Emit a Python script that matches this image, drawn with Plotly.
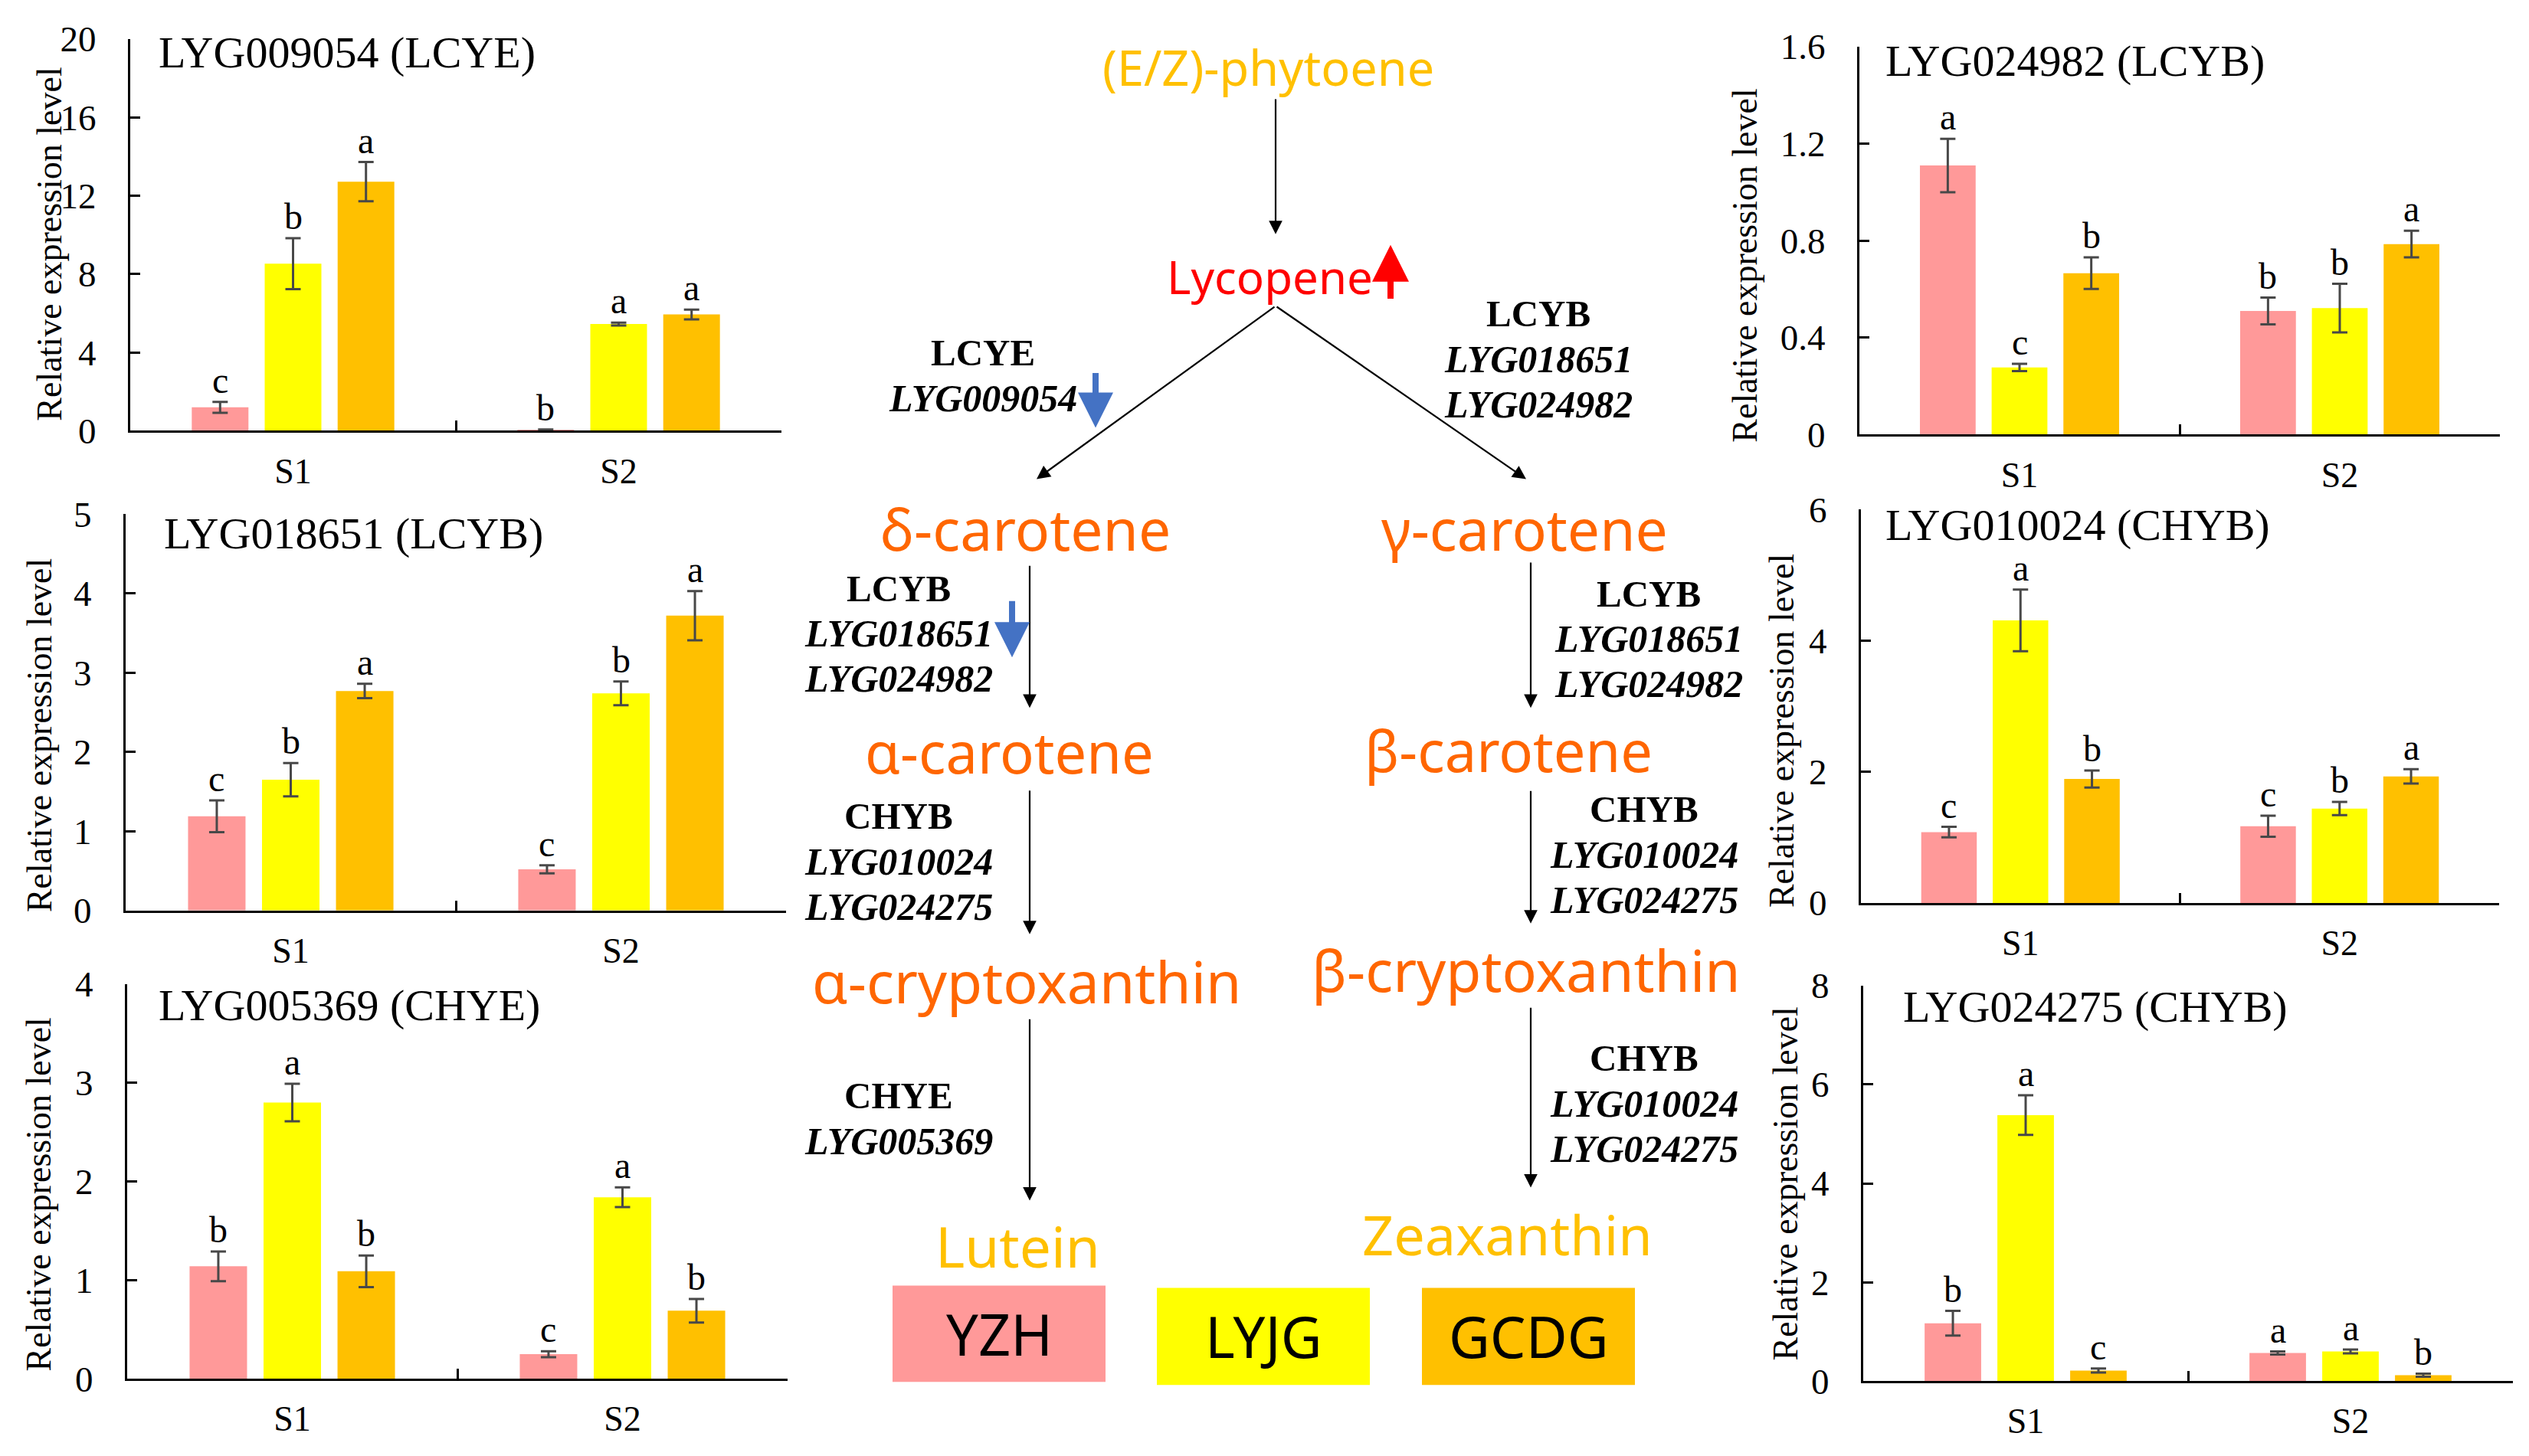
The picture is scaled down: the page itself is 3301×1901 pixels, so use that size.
import plotly.graph_objects as go

W, H = 3301, 1901

# ---------------- data ----------------
categories = ["S1", "S2"]
groups = ["YZH", "LYJG", "GCDG"]
group_colors = ["#FF9999", "#FFFF00", "#FFC000"]

# rows: YZH, LYJG, GCDG ; columns: S1, S2
lyg009054_mean = [[1.20, 0.05], [8.53, 5.45], [12.72, 5.94]]
lyg009054_err = [[0.28, 0.02], [1.30, 0.07], [1.00, 0.25]]
lyg009054_sig = [["c", "b"], ["b", "a"], ["a", "a"]]

lyg018651_mean = [[1.19, 0.52], [1.65, 2.74], [2.77, 3.72]]
lyg018651_err = [[0.20, 0.05], [0.21, 0.15], [0.09, 0.31]]
lyg018651_sig = [["c", "c"], ["b", "b"], ["a", "a"]]

lyg005369_mean = [[1.14, 0.25], [2.80, 1.84], [1.09, 0.69]]
lyg005369_err = [[0.15, 0.03], [0.19, 0.10], [0.16, 0.12]]
lyg005369_sig = [["b", "c"], ["a", "a"], ["b", "b"]]

lyg024982_mean = [[1.11, 0.51], [0.277, 0.522], [0.666, 0.786]]
lyg024982_err = [[0.11, 0.055], [0.015, 0.10], [0.065, 0.055]]
lyg024982_sig = [["a", "b"], ["c", "b"], ["b", "a"]]

lyg010024_mean = [[1.08, 1.17], [4.31, 1.44], [1.89, 1.93]]
lyg010024_err = [[0.08, 0.16], [0.47, 0.10], [0.13, 0.11]]
lyg010024_sig = [["c", "c"], ["a", "b"], ["b", "a"]]

lyg024275_mean = [[1.17, 0.57], [5.38, 0.60], [0.215, 0.12]]
lyg024275_err = [[0.25, 0.03], [0.40, 0.04], [0.04, 0.03]]
lyg024275_sig = [["b", "a"], ["a", "a"], ["c", "b"]]

panel_titles = ["LYG009054 (LCYE)", "LYG018651 (LCYB)", "LYG005369 (CHYE)",
                "LYG024982 (LCYB)", "LYG010024 (CHYB)", "LYG024275 (CHYB)"]
panel_ranges = [[0, 20], [0, 5], [0, 4], [0, 1.6], [0, 6], [0, 8]]
panel_dticks = [4, 1, 1, 0.4, 2, 2]
panel_means = [lyg009054_mean, lyg018651_mean, lyg005369_mean,
               lyg024982_mean, lyg010024_mean, lyg024275_mean]
panel_errs = [lyg009054_err, lyg018651_err, lyg005369_err,
              lyg024982_err, lyg010024_err, lyg024275_err]
panel_sigs = [lyg009054_sig, lyg018651_sig, lyg005369_sig,
              lyg024982_sig, lyg010024_sig, lyg024275_sig]

# ---------------- layout geometry (target pixels) ----------------
boxes = [(169, 1019, 49, 561), (163, 1025, 670, 1188), (165, 1027, 1284, 1800),
         (2426, 3262, 59, 566), (2428, 3261, 664, 1178), (2431, 3279, 1286, 1803)]
title_pos = [(204, 67), (211, 695), (204, 1312), (2458, 78), (2458, 684), (2481, 1314)]
ytitle_pos = [(64, 317), (50, 959), (50, 1559), (2277, 345), (2324, 953), (2330, 1545)]

SERIF = "Liberation Serif"
SANS = "Noto Sans"
BARGAP = 0.328
GROUPGAP = 0.223

# calibration of the capture (observed: shown = OFF + SC * y, shown = XOFF + x)
OFF, SC = 32.0, 0.9736
XOFF = 7.0


def ypix(y):
    return (y - OFF) / SC


def px(x):
    return (x - XOFF) / W


def py(y):
    return 1 - ypix(y) / H


fig = go.Figure()
annotations = []
shapes = []

for i in range(6):
    sfx = "" if i == 0 else str(i + 1)
    xa, ya = "x" + sfx, "y" + sfx
    x0, x1, yt, yb = boxes[i]
    for g in range(3):
        fig.add_trace(go.Bar(
            x=categories, y=panel_means[i][g], name=groups[g],
            marker=dict(color=group_colors[g], line=dict(width=0)),
            error_y=dict(type="data", array=panel_errs[i][g], visible=True,
                         color="#484848", thickness=3, width=10),
            xaxis=xa, yaxis=ya, showlegend=False))
    fig.layout["xaxis" + sfx] = dict(
        domain=[px(x0), px(x1)], anchor=ya, type="category",
        showline=True, linecolor="black", linewidth=3,
        ticks="inside", tickson="boundaries", ticklen=13, tickwidth=3, tickcolor="black",
        tickfont=dict(family=SERIF, size=46, color="black"), ticklabelstandoff=10,
        showgrid=False, zeroline=False, fixedrange=True)
    fig.layout["yaxis" + sfx] = dict(
        domain=[py(yb), py(yt)], anchor=xa, range=panel_ranges[i],
        dtick=panel_dticks[i], tick0=0,
        showline=True, linecolor="black", linewidth=3,
        ticks="inside", ticklen=13, tickwidth=3, tickcolor="black",
        tickfont=dict(family=SERIF, size=47, color="black"), ticklabelstandoff=32,
        showgrid=False, zeroline=False, fixedrange=True)
    tx, ty = title_pos[i]
    annotations.append(dict(text=panel_titles[i], x=px(tx), y=py(ty), xref="paper", yref="paper",
                            xanchor="left", yanchor="middle", showarrow=False,
                            font=dict(family=SERIF, size=58, color="black")))
    ax_, ay_ = ytitle_pos[i]
    annotations.append(dict(text="Relative expression level", x=px(ax_), y=py(ay_),
                            xref="paper", yref="paper", xanchor="center", yanchor="middle",
                            textangle=-90, showarrow=False,
                            font=dict(family=SERIF, size=46, color="black")))
    cat_w = (x1 - x0) / 2.0
    slot = (1 - BARGAP) / 3.0 * cat_w
    for g in range(3):
        for c in range(2):
            annotations.append(dict(
                text=panel_sigs[i][g][c], x=categories[c],
                y=panel_means[i][g][c] + panel_errs[i][g][c],
                xref=xa, yref=ya, xanchor="center", yanchor="bottom",
                xshift=(g - 1) * slot, yshift=0, showarrow=False,
                font=dict(family=SERIF, size=48, color="black")))

# ---------------- pathway diagram ----------------
ORANGE = "#FF6600"
GOLD = "#FFC000"
BLUE = "#4472C4"


def label(text, x, y, size, color="black", family=SANS):
    annotations.append(dict(text=text, x=px(x), y=py(y), xref="paper", yref="paper",
                            xanchor="center", yanchor="middle", showarrow=False,
                            font=dict(family=family, size=size, color=color)))


def arrow(xh, yh, xt, yt, color="black", width=2.2, size=1.6, head=2):
    annotations.append(dict(text="", x=px(xh), y=py(yh), xref="paper", yref="paper",
                            ax=xt - xh, ay=ypix(yt) - ypix(yh), axref="pixel", ayref="pixel",
                            showarrow=True, arrowhead=head, arrowsize=size,
                            arrowwidth=width, arrowcolor=color, standoff=0))


def enzyme(name, genes, x, y0, step=59):
    label("<b>%s</b>" % name, x, y0, 49, family=SERIF)
    for k, gname in enumerate(genes):
        label("<b><i>%s</i></b>" % gname, x, y0 + step * (k + 1), 50, family=SERIF)


label("(E/Z)-phytoene", 1654, 86, 63, GOLD)
arrow(1664, 304, 1664, 131)
label("Lycopene", 1656, 359, 60, "#FF0000")
arrow(1814, 318, 1814, 388, color="#FF0000", width=8, size=1.2)
arrow(1352, 624, 1664, 404)
arrow(1991, 624, 1664, 404)

enzyme("LCYE", ["LYG009054"], 1282, 459)
arrow(1429, 557, 1429, 486, color=BLUE, width=8, size=1.15)
enzyme("LCYB", ["LYG018651", "LYG024982"], 2007, 408)

label("δ-carotene", 1337, 689, 75, ORANGE)
label("γ-carotene", 1989, 689, 75, ORANGE)
arrow(1343, 923, 1343, 741)
arrow(1997, 923, 1997, 737)
enzyme("LCYB", ["LYG018651", "LYG024982"], 1172, 767)
arrow(1320, 857, 1320, 784, color=BLUE, width=8, size=1.15)
enzyme("LCYB", ["LYG018651", "LYG024982"], 2151, 774)

label("α-carotene", 1316, 980, 74, ORANGE)
label("β-carotene", 1968, 978, 74, ORANGE)
arrow(1343, 1219, 1343, 1035)
arrow(1997, 1205, 1997, 1035)
enzyme("CHYB", ["LYG010024", "LYG024275"], 1172, 1065)
enzyme("CHYB", ["LYG010024", "LYG024275"], 2145, 1056)

label("α-cryptoxanthin", 1339, 1280, 75, ORANGE)
label("β-cryptoxanthin", 1991, 1265, 75, ORANGE)
arrow(1343, 1567, 1343, 1335)
arrow(1997, 1550, 1997, 1320)
enzyme("CHYE", ["LYG005369"], 1172, 1430)
enzyme("CHYB", ["LYG010024", "LYG024275"], 2145, 1381)

label("Lutein", 1327, 1626, 73, GOLD)
label("Zeaxanthin", 1966, 1611, 72, GOLD)

key_boxes = [(1164, 1678, 1442, 1804), (1509, 1681, 1787, 1808), (1855, 1681, 2133, 1808)]
for g in range(3):
    bx0, by0, bx1, by1 = key_boxes[g]
    shapes.append(dict(type="rect", xref="paper", yref="paper",
                       x0=px(bx0), x1=px(bx1), y0=py(by1), y1=py(by0),
                       fillcolor=group_colors[g], line=dict(width=0), layer="below"))
    label(groups[g], (bx0 + bx1) / 2, (by0 + by1) / 2, 74, "black")

fig.update_layout(
    width=W, height=H, autosize=False,
    margin=dict(l=0, r=0, t=0, b=0),
    paper_bgcolor="white", plot_bgcolor="rgba(0,0,0,0)",
    barmode="group", bargap=BARGAP, bargroupgap=GROUPGAP,
    annotations=annotations, shapes=shapes, showlegend=False)

fig.write_html("out.html")
